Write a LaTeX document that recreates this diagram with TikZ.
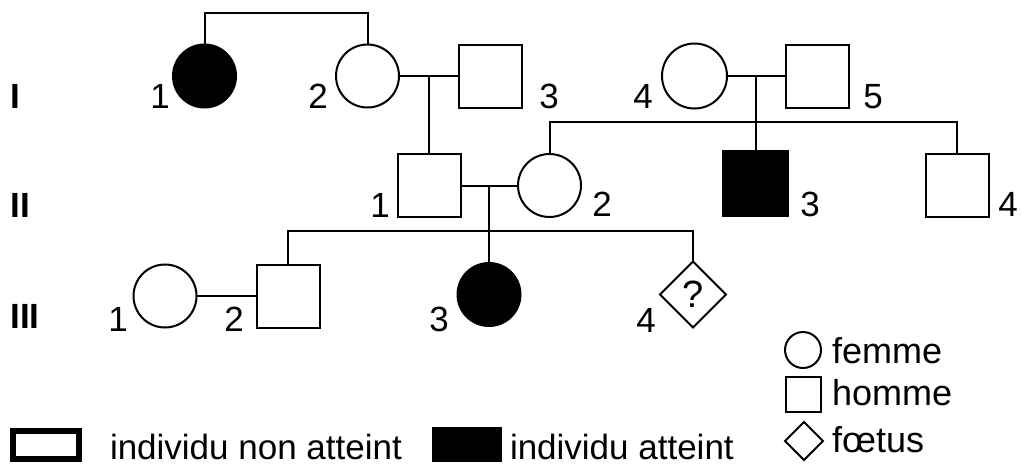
\documentclass[tikz,border=0pt]{standalone}
\usepackage{fontspec}
\setmainfont{Liberation Sans}
\usetikzlibrary{shapes.geometric,calc}
\begin{document}
\begin{tikzpicture}[x=1pt,y=-1pt,
  every node/.style={inner sep=0pt,outer sep=0pt},
  lw/.style={line width=2pt},
  fem/.style={circle,draw,lw,minimum size=63pt,fill=white},
  mal/.style={rectangle,draw,lw,minimum size=63pt,fill=white},
  fet/.style={diamond,draw,lw,minimum size=66pt,fill=white},
  aff/.style={fill=black},
  lab/.style={anchor=base,font=\fontsize{35}{40}\selectfont},
  leg/.style={anchor=base west,font=\fontsize{36}{40}\selectfont},
  gen/.style={anchor=base,font=\fontsize{35}{40}\selectfont\bfseries},
  link/.style={lw}]
\useasboundingbox (0,0) rectangle (1022,464);
\fill[white] (0,0) rectangle (1022,464);
% individuals
\node[fem,aff] (I1) at (204.5,76) {};
\node[fem] (I2) at (367.5,76) {};
\node[mal] (I3) at (490.5,76) {};
\node[fem,minimum size=65pt] (I4) at (694.5,76) {};
\node[mal] (I5) at (817,76) {};
\node[mal] (II1) at (429,185.5) {};
\node[fem] (II2) at (549.5,185.5) {};
\node[mal,aff,minimum size=65pt] (II3) at (755,183) {};
\node[mal] (II4) at (957,185) {};
\node[fem] (III1) at (165,296) {};
\node[mal] (III2) at (288,296) {};
\node[fem,aff] (III3) at (489,294.5) {};
\node[fet,font=\fontsize{38}{40}\selectfont] (III4) at (693,294.5) {?};
% connectors
\coordinate (top) at (0,13);
\draw[link] (I1.north) |- (I2.north |- top) -- (I2.north);
\coordinate (m1) at ($(I2.east)!0.5!(I3.west)$);
\draw[link] (I2.east) -- (I3.west);
\draw[link] (m1) -- (m1 |- II1.north);
\coordinate (m2) at ($(I4.east)!0.5!(I5.west)$);
\draw[link] (I4.east) -- (I5.west);
\draw[link] (m2) -- (m2 |- II3.north);
\coordinate (s2) at (0,122);
\draw[link] (II2.north) |- (II4.north |- s2) -- (II4.north);
\coordinate (m3) at ($(II1.east)!0.5!(II2.west)$);
\draw[link] (II1.east) -- (II2.west);
\draw[link] (m3) -- (m3 |- III3.north);
\coordinate (s3) at (0,231);
\draw[link] (III2.north) |- (III4.north |- s3) -- (III4.north);
\draw[link] (III1.east) -- (III2.west);
% generation labels
\node[gen] (gI) at (15.5,108) {I};
\node[gen] (gII) at (20.5,217) {II};
\node[gen] (gIII) at (25,328) {III};
% individual numbers
\node[lab] (nI1) at (160,108) {1};
\node[lab] (nI2) at (318,108) {2};
\node[lab] (nI3) at (549,108) {3};
\node[lab] (nI4) at (643,108) {4};
\node[lab] (nI5) at (873,108) {5};
\node[lab] (nII1) at (380,217) {1};
\node[lab] (nII2) at (602,216) {2};
\node[lab] (nII3) at (810,216) {3};
\node[lab] (nII4) at (1008,216) {4};
\node[lab] (nIII1) at (118,331) {1};
\node[lab] (nIII2) at (234,331) {2};
\node[lab] (nIII3) at (439,331) {3};
\node[lab] (nIII4) at (646,332) {4};
% legend
\node[fem,minimum size=36pt] (lf) at (803,350) {};
\node[mal,minimum size=35pt] (lh) at (803,394.5) {};
\node[fet,minimum size=38pt] (ld) at (804,441) {};
\node[leg] (tf) at (832,363) {femme};
\node[leg] (th) at (832,405) {homme};
\node[leg] (tfe) at (832,452) {fœtus};
\node[draw,line width=6pt,minimum width=66pt,minimum height=28pt] (lna) at (46,445) {};
\node[lab,anchor=base west] (tna) at (110,459) {individu non atteint};
\node[fill=black,minimum width=70pt,minimum height=35pt] (la) at (467,444.5) {};
\node[lab,anchor=base west] (ta) at (510,459) {individu atteint};
\end{tikzpicture}
\end{document}
